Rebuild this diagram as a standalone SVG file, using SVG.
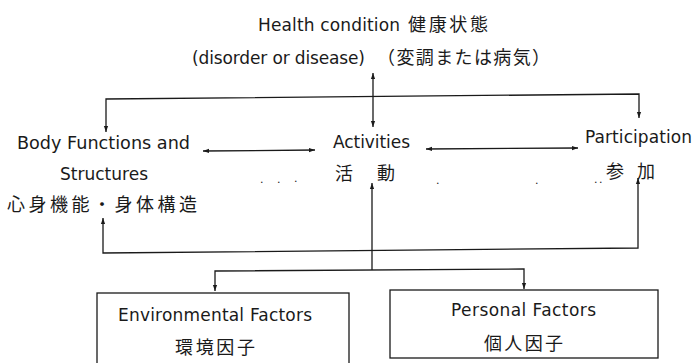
<svg xmlns="http://www.w3.org/2000/svg" width="696" height="363" viewBox="0 0 696 363">
<style>
text { font-family: "DejaVu Sans", "Noto Sans CJK JP", sans-serif; fill: #1a1a1a; font-size: 17px; }
.jp { font-size: 18px; font-family: "Noto Sans CJK JP", sans-serif; }
.dot { font-size: 11px; }
.ln { fill: none; stroke: #1a1a1a; stroke-width: 1.3; }
.box { fill: #ffffff; stroke: #1a1a1a; stroke-width: 1.3; }
</style>
<defs>
<marker id="ah" viewBox="0 0 10 10" refX="10" refY="5" markerWidth="6" markerHeight="6" orient="auto-start-reverse" markerUnits="userSpaceOnUse">
<path d="M0,1.5 L10,5 L0,8.5 Z" fill="#1a1a1a"/>
</marker>
</defs>
<rect width="696" height="363" fill="#ffffff"/>

<g id="health-condition">
<text x="258" y="31"><tspan textLength="142" lengthAdjust="spacing">Health condition</tspan> <tspan class="jp" x="408" textLength="80" lengthAdjust="spacing">健康状態</tspan></text>
<text x="192" y="64"><tspan textLength="173" lengthAdjust="spacing">(disorder or disease)</tspan> <tspan class="jp" x="377" textLength="173" lengthAdjust="spacing">（変調または病気）</tspan></text>
</g>

<g id="body-functions">
<text x="17" y="149" textLength="173" lengthAdjust="spacingAndGlyphs">Body Functions and</text>
<text x="60" y="180" textLength="88" lengthAdjust="spacing">Structures</text>
<text class="jp" x="7" y="211" textLength="190" lengthAdjust="spacing">心身機能・身体構造</text>
</g>

<g id="activities">
<text x="333" y="148" textLength="77" lengthAdjust="spacing">Activities</text>
<text class="jp" x="335" y="180" textLength="60" lengthAdjust="spacing">活 動</text>
</g>

<g id="participation">
<text x="585" y="143" textLength="107" lengthAdjust="spacing">Participation</text>
<text class="jp" x="606" y="178" textLength="49" lengthAdjust="spacing">参 加</text>
</g>

<g id="environmental-factors">
<rect class="box" x="97" y="293" width="252" height="80"/>
<text x="118" y="321" textLength="194" lengthAdjust="spacing">Environmental Factors</text>
<text class="jp" x="175" y="354" textLength="80" lengthAdjust="spacing">環境因子</text>
</g>

<g id="personal-factors">
<rect class="box" x="390" y="290" width="268" height="68"/>
<text x="451" y="316" textLength="145" lengthAdjust="spacing">Personal Factors</text>
<text class="jp" x="484" y="350" textLength="79" lengthAdjust="spacing">個人因子</text>
</g>

<g id="dots">
<text class="dot" x="260" y="183">.</text>
<text class="dot" x="277" y="183">.</text>
<text class="dot" x="294" y="182">.</text>
<text class="dot" x="436" y="184">.</text>
<text class="dot" x="535" y="184">.</text>
<text class="dot" x="594" y="183">.</text>
<text class="dot" x="599" y="183">.</text>
</g>

<g id="connectors">
<line class="ln" x1="373" y1="73" x2="373" y2="127" marker-start="url(#ah)" marker-end="url(#ah)"/>
<path class="ln" d="M106,132 L106,99 L639,94 L639,118" marker-start="url(#ah)" marker-end="url(#ah)"/>
<line class="ln" x1="203" y1="151" x2="315" y2="150" marker-start="url(#ah)" marker-end="url(#ah)"/>
<line class="ln" x1="426" y1="149" x2="578" y2="148" marker-start="url(#ah)" marker-end="url(#ah)"/>
<path class="ln" d="M103,218 L103,253 L638,248 L638,178" marker-start="url(#ah)" marker-end="url(#ah)"/>
<line class="ln" x1="372" y1="270" x2="372" y2="183" marker-end="url(#ah)"/>
<path class="ln" d="M215,291 L215,271 L524,269 L524,289" marker-start="url(#ah)" marker-end="url(#ah)"/>
</g>
</svg>
